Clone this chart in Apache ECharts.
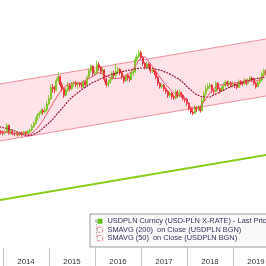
<!DOCTYPE html>
<html><head><meta charset="utf-8">
<script src="https://cdn.jsdelivr.net/npm/echarts@6/dist/echarts.min.js"></script>
<style>html,body{margin:0;padding:0;background:#fff}#c{width:266px;height:266px}</style>
</head><body><div id="c"></div>
<script>
const priceName = 'USDPLN Curncy (USD-PLN X-RATE) - Last Price';
const sma200Name = 'SMAVG (200)  on Close (USDPLN BGN)';
const sma50Name = 'SMAVG (50)  on Close (USDPLN BGN)';
const yearLabels = ['2013','2014','2015','2016','2017','2018','2019'];

const priceDates = ['2013-12-16',
'2014-01-01','2014-01-16','2014-02-01','2014-02-16','2014-03-01','2014-03-16','2014-04-01','2014-04-16','2014-05-01','2014-05-16','2014-06-01','2014-06-16','2014-07-01','2014-07-16','2014-08-01','2014-08-16','2014-09-01','2014-09-16','2014-10-01','2014-10-16','2014-11-01','2014-11-16','2014-12-01','2014-12-16',
'2015-01-01','2015-01-16','2015-02-01','2015-02-16','2015-03-01','2015-03-16','2015-04-01','2015-04-16','2015-05-01','2015-05-16','2015-06-01','2015-06-16','2015-07-01','2015-07-16','2015-08-01','2015-08-16','2015-09-01','2015-09-16','2015-10-01','2015-10-16','2015-11-01','2015-11-16','2015-12-01','2015-12-16',
'2016-01-01','2016-01-16','2016-02-01','2016-02-16','2016-03-01','2016-03-16','2016-04-01','2016-04-16','2016-05-01','2016-05-16','2016-06-01','2016-06-16','2016-07-01','2016-07-16','2016-08-01','2016-08-16','2016-09-01','2016-09-16','2016-10-01','2016-10-16','2016-11-01','2016-11-16','2016-12-01','2016-12-16',
'2017-01-01','2017-01-16','2017-02-01','2017-02-16','2017-03-01','2017-03-16','2017-04-01','2017-04-16','2017-05-01','2017-05-16','2017-06-01','2017-06-16','2017-07-01','2017-07-16','2017-08-01','2017-08-16','2017-09-01','2017-09-16','2017-10-01','2017-10-16','2017-11-01','2017-11-16','2017-12-01','2017-12-16',
'2018-01-01','2018-01-16','2018-02-01','2018-02-16','2018-03-01','2018-03-16','2018-04-01','2018-04-16','2018-05-01','2018-05-16','2018-06-01','2018-06-16','2018-07-01','2018-07-16','2018-08-01','2018-08-16','2018-09-01','2018-09-16','2018-10-01','2018-10-16','2018-11-01','2018-11-16','2018-12-01','2018-12-16',
'2019-01-01','2019-01-16','2019-02-01','2019-02-16','2019-03-01','2019-03-16','2019-04-01','2019-04-16','2019-05-01','2019-05-16','2019-06-01','2019-06-16','2019-07-01','2019-07-16','2019-08-01','2019-08-16','2019-09-01','2019-09-16'];

// [open, close, low, high]
const priceOHLC = [
[3.06,3.04,3.01,3.08],
[3.04,3.03,3.00,3.07],[3.03,3.05,3.01,3.09],[3.05,3.15,3.04,3.18],[3.15,3.04,3.01,3.16],[3.04,3.06,3.01,3.09],[3.06,3.03,3.00,3.08],[3.03,3.02,2.99,3.05],[3.02,3.03,3.00,3.06],[3.03,3.01,2.98,3.05],[3.01,3.04,2.99,3.06],[3.04,3.02,2.98,3.06],[3.02,3.05,3.00,3.07],[3.05,3.03,2.99,3.06],[3.03,3.06,3.01,3.08],[3.06,3.08,3.03,3.10],[3.08,3.13,3.06,3.17],[3.13,3.18,3.11,3.21],[3.18,3.24,3.16,3.27],[3.24,3.30,3.22,3.33],[3.30,3.33,3.26,3.36],[3.33,3.37,3.30,3.40],[3.37,3.35,3.31,3.40],[3.35,3.38,3.33,3.42],[3.38,3.47,3.36,3.52],
[3.47,3.55,3.45,3.60],[3.55,3.72,3.53,3.76],[3.72,3.70,3.64,3.77],[3.70,3.68,3.63,3.74],[3.68,3.82,3.66,3.86],[3.82,3.88,3.78,3.95],[3.88,3.76,3.72,3.90],[3.76,3.70,3.65,3.80],[3.70,3.60,3.56,3.72],[3.60,3.68,3.58,3.72],[3.68,3.75,3.65,3.80],[3.75,3.70,3.66,3.78],[3.70,3.77,3.68,3.80],[3.77,3.79,3.73,3.82],[3.79,3.76,3.72,3.82],[3.76,3.78,3.70,3.81],[3.78,3.76,3.72,3.80],[3.76,3.73,3.70,3.79],[3.73,3.80,3.71,3.83],[3.80,3.76,3.72,3.82],[3.76,3.87,3.74,3.90],[3.87,3.97,3.85,4.00],[3.97,4.04,3.94,4.06],[4.04,3.93,3.88,4.05],
[3.93,3.94,3.89,3.99],[3.94,4.06,3.92,4.12],[4.06,4.02,3.97,4.10],[4.02,3.96,3.92,4.04],[3.96,3.98,3.90,4.01],[3.98,3.84,3.80,3.99],[3.84,3.76,3.72,3.86],[3.76,3.79,3.72,3.83],[3.79,3.84,3.77,3.88],[3.84,3.93,3.82,3.96],[3.93,3.90,3.86,3.97],[3.90,3.96,3.86,4.08],[3.96,3.99,3.92,4.03],[3.99,3.94,3.90,4.01],[3.94,3.88,3.84,3.96],[3.88,3.82,3.78,3.90],[3.82,3.90,3.80,3.92],[3.90,3.86,3.82,3.93],[3.86,3.84,3.80,3.89],[3.84,3.93,3.83,3.97],[3.93,3.95,3.89,3.99],[3.95,4.14,3.93,4.18],[4.14,4.18,4.10,4.22],[4.18,4.24,4.16,4.28],
[4.24,4.17,4.13,4.27],[4.17,4.08,4.04,4.19],[4.08,4.02,3.99,4.10],[4.02,4.07,4.00,4.11],[4.07,4.04,4.00,4.09],[4.04,3.97,3.93,4.06],[3.97,3.98,3.93,4.02],[3.98,3.95,3.90,4.00],[3.95,3.87,3.84,3.97],[3.87,3.78,3.74,3.89],[3.78,3.73,3.70,3.80],[3.73,3.75,3.70,3.78],[3.75,3.70,3.66,3.77],[3.70,3.66,3.62,3.72],[3.66,3.60,3.56,3.68],[3.60,3.63,3.57,3.66],[3.63,3.58,3.54,3.65],[3.58,3.56,3.53,3.61],[3.56,3.65,3.55,3.69],[3.65,3.59,3.56,3.68],[3.59,3.64,3.57,3.69],[3.64,3.60,3.56,3.66],[3.60,3.55,3.52,3.62],[3.55,3.54,3.49,3.58],
[3.54,3.48,3.44,3.56],[3.48,3.40,3.37,3.50],[3.40,3.35,3.32,3.42],[3.35,3.33,3.30,3.40],[3.33,3.42,3.32,3.45],[3.42,3.39,3.35,3.44],[3.39,3.42,3.37,3.45],[3.42,3.37,3.34,3.44],[3.37,3.52,3.36,3.56],[3.52,3.62,3.50,3.66],[3.62,3.70,3.60,3.75],[3.70,3.73,3.67,3.78],[3.73,3.75,3.70,3.79],[3.75,3.67,3.64,3.77],[3.67,3.66,3.61,3.70],[3.66,3.78,3.64,3.81],[3.78,3.70,3.67,3.80],[3.70,3.67,3.63,3.72],[3.67,3.70,3.65,3.74],[3.70,3.74,3.68,3.79],[3.74,3.80,3.72,3.83],[3.80,3.77,3.73,3.82],[3.77,3.79,3.74,3.82],[3.79,3.76,3.72,3.81],
[3.76,3.77,3.73,3.81],[3.77,3.75,3.71,3.79],[3.75,3.72,3.69,3.77],[3.72,3.81,3.71,3.84],[3.81,3.79,3.75,3.83],[3.79,3.77,3.74,3.81],[3.77,3.83,3.76,3.86],[3.83,3.78,3.75,3.84],[3.78,3.82,3.76,3.85],[3.82,3.86,3.80,3.89],[3.86,3.84,3.80,3.88],[3.84,3.78,3.75,3.86],[3.78,3.73,3.70,3.80],[3.73,3.79,3.72,3.82],[3.79,3.83,3.77,3.87],[3.83,3.92,3.81,3.96],[3.92,3.97,3.89,4.00],[3.97,3.93,3.90,3.99]
];

const smaDates = ['2013-12-01',
'2014-01-01','2014-02-01','2014-03-01','2014-04-01','2014-05-01','2014-06-01','2014-07-01','2014-08-01','2014-09-01','2014-10-01','2014-11-01','2014-12-01',
'2015-01-01','2015-02-01','2015-03-01','2015-04-01','2015-05-01','2015-06-01','2015-07-01','2015-08-01','2015-09-01','2015-10-01','2015-11-01','2015-12-01',
'2016-01-01','2016-02-01','2016-03-01','2016-04-01','2016-05-01','2016-06-01','2016-07-01','2016-08-01','2016-09-01','2016-10-01','2016-11-01','2016-12-01',
'2017-01-01','2017-02-01','2017-03-01','2017-04-01','2017-05-01','2017-06-01','2017-07-01','2017-08-01','2017-09-01','2017-10-01','2017-11-01','2017-12-01',
'2018-01-01','2018-02-01','2018-03-01','2018-04-01','2018-05-01','2018-06-01','2018-07-01','2018-08-01','2018-09-01','2018-10-01','2018-11-01','2018-12-01',
'2019-01-01','2019-02-01','2019-03-01','2019-04-01','2019-05-01','2019-06-01','2019-07-01','2019-08-01','2019-09-01','2019-09-16'];

const sma200 = [3.128,
3.116,3.104,3.090,3.068,3.046,3.020,2.996,2.998,3.016,3.043,3.083,3.136,
3.187,3.245,3.311,3.373,3.443,3.512,3.569,3.614,3.662,3.703,3.742,3.779,
3.808,3.836,3.860,3.884,3.907,3.925,3.941,3.956,3.967,3.979,3.990,4.001,
4.010,4.010,4.010,4.003,3.990,3.979,3.956,3.934,3.905,3.871,3.836,3.791,
3.728,3.680,3.629,3.600,3.578,3.575,3.575,3.604,3.632,3.660,3.689,3.719,
3.743,3.766,3.788,3.806,3.823,3.836,3.848,3.860,3.869,3.872];

const sma50 = [3.065,
3.056,3.044,3.034,3.028,3.023,3.016,3.007,3.016,3.055,3.110,3.187,3.280,
3.383,3.479,3.565,3.658,3.718,3.763,3.785,3.785,3.785,3.810,3.839,3.869,
3.905,3.940,3.925,3.889,3.862,3.850,3.854,3.871,3.892,3.929,3.997,4.085,
4.163,4.175,4.109,4.033,3.953,3.871,3.791,3.728,3.670,3.619,3.595,3.554,
3.503,3.422,3.410,3.420,3.467,3.554,3.635,3.704,3.742,3.757,3.763,3.769,
3.781,3.791,3.802,3.808,3.812,3.815,3.815,3.836,3.892,3.925];

const channelDates = ['2013-12-01','2019-10-01'];
const channelUpper = [3.768, 4.449];
const channelLower = [2.913, 3.594];
const trendDates = ['2013-12-01','2019-10-01'];
const trendLine = [2.028, 2.709];

const toMs = s => new Date(s + 'T00:00:00').getTime();
const chart = echarts.init(document.getElementById('c'), null, {renderer:'canvas'});
const font = 'Liberation Sans, Arial, sans-serif';

chart.setOption({
  animation: false,
  backgroundColor: '#ffffff',
  grid: [
    {left: 0, right: 0, top: 0, height: 248, outerBoundsMode: 'none', containLabel: false},
    {left: -43, width: 322, top: 248, height: 18, outerBoundsMode: 'none', containLabel: false}
  ],
  xAxis: [
    {type: 'time', gridIndex: 0, min: toMs('2013-12-08'), max: toMs('2019-09-19'), show: false},
    {type: 'category', gridIndex: 1, position: 'top', data: yearLabels, boundaryGap: true,
     axisLine: {show: true, lineStyle: {color: '#a0a0a0', width: 1}},
     axisTick: {show: false},
     axisLabel: {inside: true, margin: 10, color: '#333333', fontSize: 7.8, fontFamily: font},
     splitLine: {show: true, lineStyle: {color: '#c4c4c4', width: 1}}}
  ],
  yAxis: [
    {type: 'value', gridIndex: 0, min: 1.31, max: 5.03, show: false},
    {type: 'value', gridIndex: 1, show: false}
  ],
  legend: {
    orient: 'vertical', left: 90, top: 214,
    padding: [3, 6, 4.5, 7],
    itemWidth: 5, itemHeight: 5, itemGap: 0,
    backgroundColor: '#f9f9f9', borderColor: '#9a9a9a', borderWidth: 1,
    textStyle: {color: '#34345a', fontSize: 7.4, fontFamily: font, lineHeight: 8.5},
    selectedMode: false,
    data: [
      {name: priceName, icon: 'rect', itemStyle: {color: '#5fbf10', borderWidth: 0}},
      {name: sma200Name, icon: 'rect', itemStyle: {color: '#ffffff', borderColor: '#f08a9a', borderWidth: 1, borderType: 'dashed'}},
      {name: sma50Name, icon: 'rect', itemStyle: {color: '#ffffff', borderColor: '#f08a9a', borderWidth: 1, borderType: 'dashed'}}
    ]
  },
  graphic: [
    {type: 'polyline', z: 100, silent: true, shape: {points: [[96.5, 222], [96.5, 238.5], [98.5, 238.5]]}, style: {stroke: '#b0b0b0', lineWidth: 1, lineDash: [1, 1], fill: null}},
    {type: 'line', z: 100, silent: true, shape: {x1: 96.5, y1: 229.5, x2: 98.5, y2: 229.5}, style: {stroke: '#b0b0b0', lineWidth: 1}},
    {type: 'rect', z: 100, silent: true, shape: {x: 95, y: 219.5, width: 2.5, height: 2.5}, style: {fill: '#c0c0c0'}}
  ],
  series: [
    {name: 'chLower', type: 'line', z: 1, xAxisIndex: 0, yAxisIndex: 0, stack: 'ch', symbol: 'none', silent: true,
     data: channelDates.map((d, i) => [toMs(d), channelLower[i]]),
     lineStyle: {color: '#f2909f', width: 1}},
    {name: 'chBand', type: 'line', z: 1, xAxisIndex: 0, yAxisIndex: 0, stack: 'ch', symbol: 'none', silent: true,
     data: channelDates.map((d, i) => [toMs(d), channelUpper[i] - channelLower[i]]),
     lineStyle: {color: '#f2909f', width: 1},
     areaStyle: {color: '#ffe3e8', opacity: 1}},
    {name: 'trend', type: 'line', z: 1, xAxisIndex: 0, yAxisIndex: 0, symbol: 'none', silent: true,
     data: trendDates.map((d, i) => [toMs(d), trendLine[i]]),
     lineStyle: {color: '#86cc1a', width: 1.8}},
    {name: priceName, type: 'candlestick', z: 2, xAxisIndex: 0, yAxisIndex: 0, barWidth: 1.5,
     data: priceDates.map((d, i) => [toMs(d)].concat(priceOHLC[i])),
     encode: {x: 0, y: [1, 2, 3, 4]},
     itemStyle: {color: '#7cc21c', color0: '#e8212b', borderColor: '#7cc21c', borderColor0: '#e8212b', borderWidth: 0.8}},
    {name: sma200Name, type: 'line', z: 3, xAxisIndex: 0, yAxisIndex: 0, symbol: 'none', smooth: 0.3,
     data: smaDates.map((d, i) => [toMs(d), sma200[i]]),
     lineStyle: {color: '#9a1c34', width: 1.2, type: [2, 1]}},
    {name: sma50Name, type: 'line', z: 3, xAxisIndex: 0, yAxisIndex: 0, symbol: 'none', smooth: 0.3,
     data: smaDates.map((d, i) => [toMs(d), sma50[i]]),
     lineStyle: {color: '#ec5570', width: 1}}
  ]
});
</script></body></html>
